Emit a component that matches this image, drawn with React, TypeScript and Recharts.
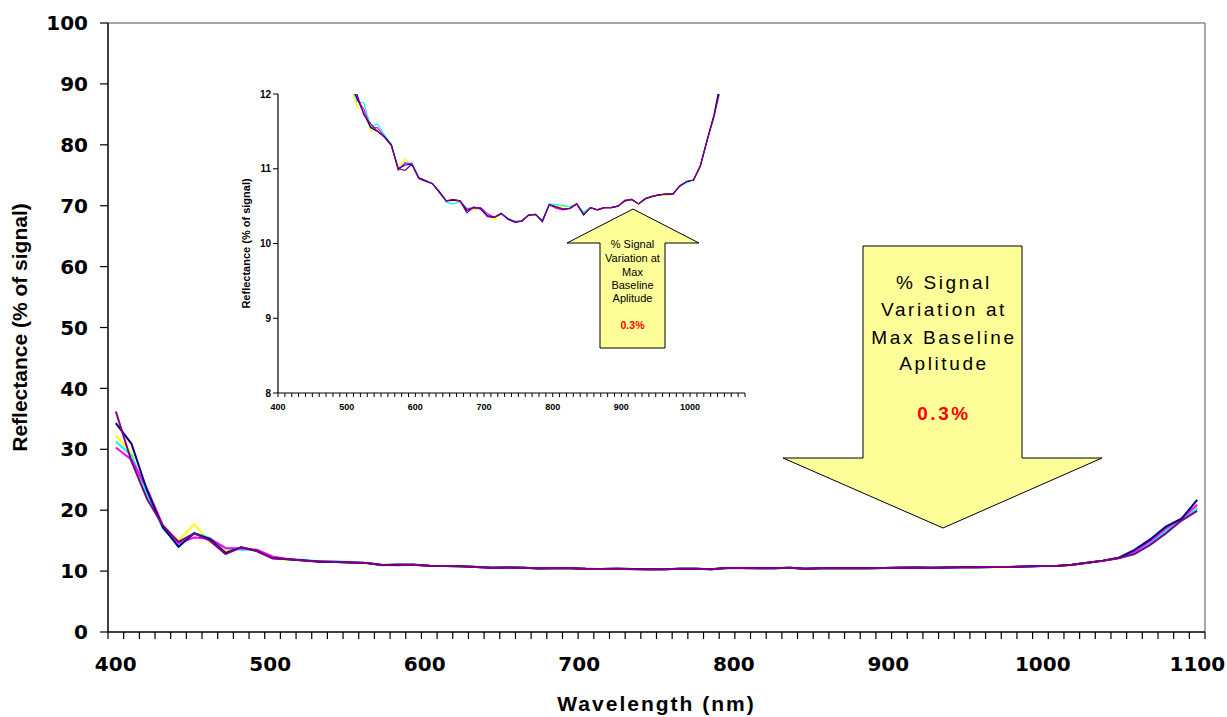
import { LineChart, Line, XAxis, YAxis, ReferenceLine } from 'recharts';

// sample wavelengths (nm)
const wavelengths = [
  405, 415, 425, 435, 445, 455, 465, 475, 485, 495,
  505, 515, 525, 535, 545, 555, 565, 575, 585, 595,
  605, 615, 625, 635, 645, 655, 665, 675, 685, 695,
  705, 715, 725, 735, 745, 755, 765, 775, 785, 795,
  805, 815, 825, 835, 845, 855, 865, 875, 885, 895,
  905, 915, 925, 935, 945, 955, 965, 975, 985, 995,
  1005, 1015, 1025, 1035, 1045, 1055, 1065, 1075, 1085, 1095,
];

const yellowRun = [
  32.3, 29.4, 22.3, 17.4, 15.0, 17.7, 14.8, 13.4, 13.7, 13.3,
  12.1, 11.83, 11.78, 11.5, 11.52, 11.43, 11.32, 11.02, 11.13, 11.05,
  10.88, 10.84, 10.8, 10.69, 10.56, 10.57, 10.57, 10.45, 10.45, 10.48,
  10.37, 10.32, 10.4, 10.33, 10.29, 10.3, 10.38, 10.38, 10.3, 10.51,
  10.5, 10.49, 10.5, 10.53, 10.39, 10.48, 10.45, 10.47, 10.48, 10.5,
  10.56, 10.59, 10.52, 10.6, 10.62, 10.65, 10.64, 10.66, 10.76, 10.83,
  10.84, 11.02, 11.38, 11.71, 12.15, 13.1, 14.8, 16.8, 18.5, 20.6,
];

const cyanRun = [
  31.3, 29.0, 22.7, 17.0, 14.4, 16.3, 15.4, 13.7, 13.5, 13.5,
  12.2, 11.9, 11.88, 11.56, 11.6, 11.45, 11.33, 11.0, 11.07, 11.08,
  10.88, 10.84, 10.8, 10.7, 10.55, 10.53, 10.56, 10.47, 10.48, 10.47,
  10.38, 10.35, 10.41, 10.33, 10.3, 10.3, 10.38, 10.39, 10.31, 10.53,
  10.52, 10.51, 10.49, 10.53, 10.42, 10.48, 10.45, 10.48, 10.48, 10.5,
  10.57, 10.59, 10.53, 10.6, 10.63, 10.65, 10.67, 10.66, 10.77, 10.81,
  10.85, 11.04, 11.39, 11.72, 12.15, 13.0, 14.6, 16.6, 18.4, 20.3,
];

const magentaRun = [
  30.3, 28.3, 23.5, 17.5, 14.6, 15.5, 15.3, 13.8, 13.7, 13.5,
  12.4, 11.93, 11.8, 11.55, 11.55, 11.43, 11.32, 10.98, 11.08, 11.06,
  10.88, 10.84, 10.8, 10.69, 10.57, 10.58, 10.57, 10.46, 10.48, 10.48,
  10.4, 10.35, 10.4, 10.33, 10.28, 10.3, 10.38, 10.39, 10.3, 10.52,
  10.47, 10.45, 10.47, 10.53, 10.39, 10.48, 10.45, 10.48, 10.48, 10.5,
  10.58, 10.59, 10.53, 10.6, 10.63, 10.65, 10.66, 10.66, 10.77, 10.83,
  10.85, 11.04, 11.39, 11.72, 12.18, 13.2, 14.9, 17.0, 18.6, 20.9,
];

const navyRun = [
  34.3, 30.9, 23.2, 17.2, 14.0, 16.2, 15.3, 13.0, 13.9, 13.3,
  12.1, 11.95, 11.74, 11.55, 11.5, 11.43, 11.32, 11.0, 11.05, 11.06,
  10.88, 10.84, 10.8, 10.69, 10.57, 10.58, 10.57, 10.44, 10.48, 10.47,
  10.37, 10.35, 10.4, 10.33, 10.29, 10.3, 10.38, 10.39, 10.3, 10.52,
  10.49, 10.46, 10.47, 10.53, 10.38, 10.48, 10.45, 10.48, 10.48, 10.5,
  10.57, 10.59, 10.53, 10.6, 10.63, 10.65, 10.66, 10.66, 10.77, 10.83,
  10.85, 11.04, 11.39, 11.72, 12.2, 13.5, 15.2, 17.3, 18.6, 21.7,
];

const purpleRun = [
  36.2, 28.0, 21.8, 17.5, 14.8, 16.2, 15.0, 12.8, 13.9, 13.3,
  12.1, 12.0, 11.72, 11.6, 11.5, 11.42, 11.31, 11.0, 10.98, 11.06,
  10.87, 10.83, 10.8, 10.68, 10.57, 10.59, 10.57, 10.41, 10.49, 10.46,
  10.36, 10.35, 10.4, 10.32, 10.29, 10.3, 10.38, 10.39, 10.29, 10.52,
  10.49, 10.46, 10.47, 10.53, 10.39, 10.48, 10.45, 10.48, 10.48, 10.5,
  10.57, 10.59, 10.53, 10.6, 10.63, 10.65, 10.66, 10.66, 10.77, 10.83,
  10.85, 11.04, 11.38, 11.7, 12.1, 12.8, 14.3, 16.2, 18.3, 19.9,
];

const runs = [
  { key: 'yellow', color: '#FFFF00', values: yellowRun },
  { key: 'cyan', color: '#00FFFF', values: cyanRun },
  { key: 'magenta', color: '#FF00FF', values: magentaRun },
  { key: 'navy', color: '#000080', values: navyRun },
  { key: 'purple', color: '#800080', values: purpleRun },
];

const mainYTicks = [0, 10, 20, 30, 40, 50, 60, 70, 80, 90, 100];
const insetYTicks = [8, 9, 10, 11, 12];
const mainXTicks = Array.from({ length: 71 }, (_, i) => 400 + i * 10);
const insetXTicks = Array.from({ length: 69 }, (_, i) => 400 + i * 10);

const data = wavelengths.map((nm, i) => {
  const row: Record<string, number> = { nm };
  runs.forEach((r) => {
    row[r.key] = r.values[i];
  });
  return row;
});

const arial = 'Liberation Sans, Arial, sans-serif';
const dejavu = 'DejaVu Sans, sans-serif';

// only every 100 nm gets a label, the rest are bare tick marks
const MainXTick = (props: any) => {
  const { x, y, payload } = props;
  if (payload.value % 100 !== 0) return <g />;
  const nudge = (656 - x) * 0.014;
  return (
    <text x={x + nudge} y={y} dy="0.71em" textAnchor="middle" fontFamily={dejavu} fontWeight="bold" fontSize={20} fill="#000">
      {payload.value}
    </text>
  );
};

const InsetXTick = (props: any) => {
  const { x, y, payload } = props;
  if (payload.value % 100 !== 0) return <g />;
  return (
    <text x={x} y={y} dy="0.71em" textAnchor="middle" fontFamily={arial} fontWeight="bold" fontSize={9} fill="#000">
      {payload.value}
    </text>
  );
};

function Callouts() {
  return (
    <svg width={1227} height={717} style={{ position: 'absolute', left: 0, top: 0, pointerEvents: 'none' }}>
      <polygon
        points="633,209 699,243 665,243 665,348 600,348 600,243 567,243"
        fill="#FFFF99"
        stroke="#000"
        strokeWidth={1}
      />
      <g fontFamily={arial} fontSize={11} textAnchor="middle" fill="#000">
        <text x={632.5} y={248}>% Signal</text>
        <text x={632.5} y={262}>Variation at</text>
        <text x={632.5} y={276}>Max</text>
        <text x={632.5} y={289}>Baseline</text>
        <text x={632.5} y={302}>Aplitude</text>
      </g>
      <text x={632.5} y={329} fontFamily={arial} fontSize={10.5} fontWeight="bold" textAnchor="middle" fill="#FF0000">
        0.3%
      </text>

      <polygon
        points="863,246 1022,246 1022,458 1102,458 943,528 783,458 863,458"
        fill="#FFFF99"
        stroke="#000"
        strokeWidth={1}
      />
      <g fontFamily={arial} fontSize={19} letterSpacing={2.6} textAnchor="middle" fill="#000">
        <text x={944} y={289}>% Signal</text>
        <text x={944} y={316}>Variation at</text>
        <text x={944} y={344}>Max Baseline</text>
        <text x={944} y={370}>Aplitude</text>
      </g>
      <text x={944} y={420} fontFamily={arial} fontSize={19} letterSpacing={2.6} fontWeight="bold" textAnchor="middle" fill="#FF0000">
        0.3%
      </text>
    </svg>
  );
}

export default function App() {
  return (
    <div style={{ position: 'absolute', left: 0, top: 0, width: 1227, height: 717, background: '#fff' }}>
      <LineChart width={1227} height={717} data={data} margin={{ top: 23, right: 22, left: 0, bottom: 0 }}>
        <XAxis
          dataKey="nm"
          type="number"
          domain={[400, 1100]}
          ticks={mainXTicks}
          interval={0}
          height={85}
          tickSize={7}
          tickMargin={18}
          tick={<MainXTick />}
          axisLine={{ stroke: '#000', strokeWidth: 1.5 }}
          tickLine={{ stroke: '#000', strokeWidth: 1.2 }}
          label={{
            value: 'Wavelength (nm)',
            position: 'insideBottom',
            offset: 6,
            style: { fontFamily: arial, fontWeight: 'bold', fontSize: 21, letterSpacing: 2, fill: '#000' },
          }}
        />
        <YAxis
          type="number"
          domain={[0, 100]}
          ticks={mainYTicks}
          interval={0}
          width={108}
          tickSize={8}
          tickMargin={12}
          tick={{ fontFamily: dejavu, fontWeight: 'bold', fontSize: 20, fill: '#000' }}
          axisLine={{ stroke: '#000', strokeWidth: 1.5 }}
          tickLine={{ stroke: '#000', strokeWidth: 1.2 }}
          label={{
            value: 'Reflectance (% of signal)',
            angle: -90,
            position: 'insideLeft',
            offset: 20,
            style: { textAnchor: 'middle', fontFamily: arial, fontWeight: 'bold', fontSize: 21, fill: '#000' },
          }}
        />
        <ReferenceLine y={100} stroke="#888" strokeWidth={1.5} />
        <ReferenceLine x={1100} stroke="#888" strokeWidth={1.5} />
        {runs.map((r) => (
          <Line
            key={r.key}
            dataKey={r.key}
            type="linear"
            stroke={r.color}
            strokeWidth={2}
            dot={false}
            activeDot={false}
            isAnimationActive={false}
          />
        ))}
      </LineChart>

      {/* zoomed-in view of the flat baseline region */}
      <div style={{ position: 'absolute', left: 230, top: 80, width: 530, height: 340 }}>
        <LineChart width={530} height={340} data={data} margin={{ top: 14, right: 15, left: 0, bottom: 0 }}>
          <XAxis
            dataKey="nm"
            type="number"
            domain={[400, 1080]}
            allowDataOverflow
            ticks={insetXTicks}
            interval={0}
            height={27}
            tickSize={4}
            tickMargin={7}
            tick={<InsetXTick />}
            axisLine={{ stroke: '#000', strokeWidth: 1.2 }}
            tickLine={{ stroke: '#000', strokeWidth: 1 }}
          />
          <YAxis
            type="number"
            domain={[8, 12]}
            allowDataOverflow
            ticks={insetYTicks}
            interval={0}
            width={48}
            tickSize={5}
            tickMargin={2}
            tick={{ fontFamily: arial, fontWeight: 'bold', fontSize: 10, fill: '#000' }}
            axisLine={{ stroke: '#000', strokeWidth: 1.2 }}
            tickLine={{ stroke: '#000', strokeWidth: 1 }}
            label={{
              value: 'Reflectance (% of signal)',
              angle: -90,
              position: 'insideLeft',
              offset: 16,
              style: { textAnchor: 'middle', fontFamily: arial, fontWeight: 'bold', fontSize: 11, fill: '#000' },
            }}
          />
          {runs.map((r) => (
            <Line
              key={r.key}
              dataKey={r.key}
              type="linear"
              stroke={r.color}
              strokeWidth={1.2}
              dot={false}
              activeDot={false}
              isAnimationActive={false}
            />
          ))}
        </LineChart>
      </div>

      <Callouts />
    </div>
  );
}
